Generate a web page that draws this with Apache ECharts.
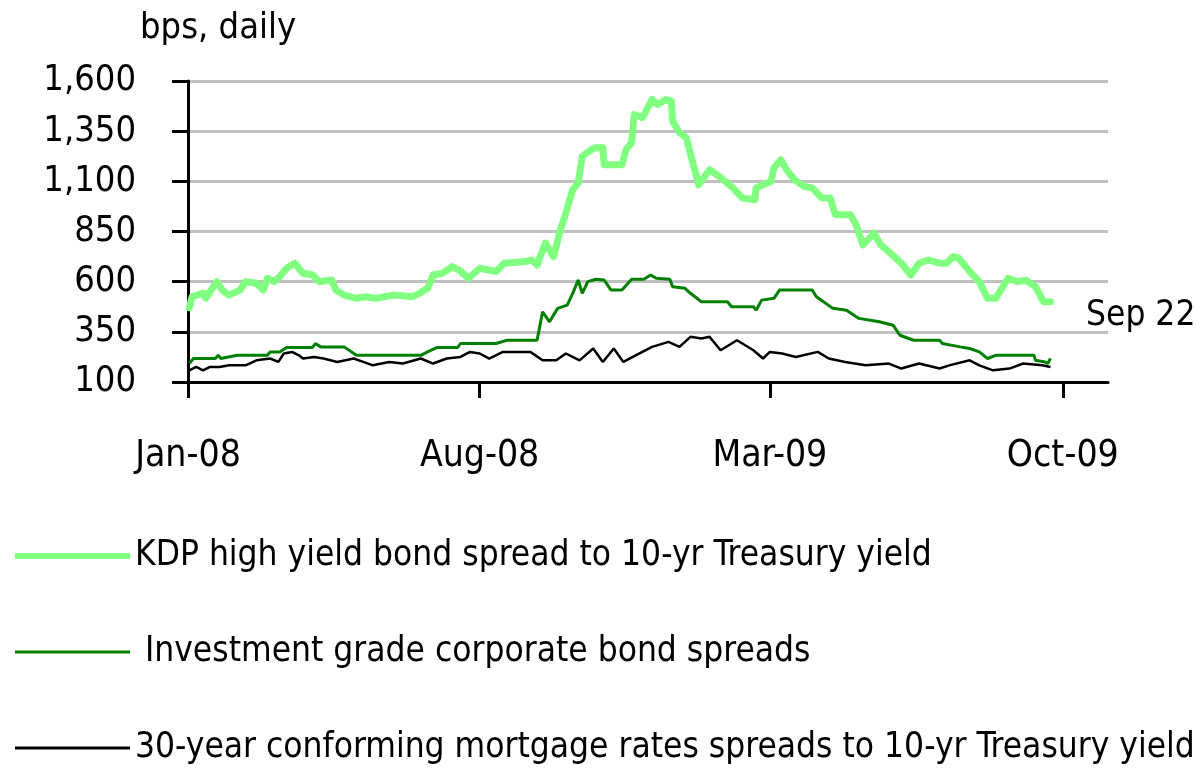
<!DOCTYPE html>
<html>
<head>
<meta charset="utf-8">
<title>Spreads</title>
<script src="https://cdn.jsdelivr.net/npm/echarts@6/dist/echarts.min.js"></script>
<style>
  html, body { margin: 0; padding: 0; background: #fff; }
  #chart { width: 1200px; height: 769px; }
</style>
</head>
<body>
<div id="chart"></div>
<script>
var FONT = '"Liberation Sans Narrow", "DejaVu Sans Condensed", "Arial Narrow", sans-serif';

var yTicks = [100, 350, 600, 850, 1100, 1350, 1600];
var xTicks = ['2008-01-01', '2008-08-01', '2009-03-01', '2009-10-01'];
var monthNames = ['Jan', 'Feb', 'Mar', 'Apr', 'May', 'Jun', 'Jul', 'Aug', 'Sep', 'Oct', 'Nov', 'Dec'];

var seriesNames = [
  'KDP high yield bond spread to 10-yr Treasury yield',
  ' Investment grade corporate bond spreads',
  '30-year conforming mortgage rates spreads to 10-yr Treasury yield'
];

// KDP high yield spread
var hyDates = [
  '2008-01-02', '2008-01-04', '2008-01-12', '2008-01-14', '2008-01-22', '2008-01-26', '2008-01-31',
  '2008-02-08', '2008-02-12', '2008-02-20', '2008-02-25', '2008-02-28', '2008-03-04', '2008-03-08',
  '2008-03-13', '2008-03-19', '2008-03-25', '2008-04-01', '2008-04-06', '2008-04-15', '2008-04-18',
  '2008-04-24', '2008-05-03', '2008-05-10', '2008-05-17', '2008-05-30', '2008-06-13', '2008-06-18',
  '2008-06-24', '2008-06-28', '2008-07-05', '2008-07-12', '2008-07-17', '2008-07-24', '2008-08-01',
  '2008-08-08', '2008-08-13', '2008-08-19', '2008-09-04', '2008-09-08', '2008-09-12', '2008-09-18',
  '2008-09-24', '2008-09-29', '2008-10-03', '2008-10-08', '2008-10-12', '2008-10-15', '2008-10-20',
  '2008-10-24', '2008-10-30', '2008-10-31', '2008-11-06', '2008-11-13', '2008-11-16', '2008-11-20',
  '2008-11-22', '2008-11-28', '2008-12-05', '2008-12-09', '2008-12-15', '2008-12-19', '2008-12-20',
  '2008-12-25', '2008-12-30', '2009-01-08', '2009-01-16', '2009-01-23', '2009-02-02', '2009-02-09',
  '2009-02-18', '2009-02-19', '2009-03-02', '2009-03-04', '2009-03-09', '2009-03-13', '2009-03-19',
  '2009-03-26', '2009-04-01', '2009-04-08', '2009-04-14', '2009-04-18', '2009-04-29', '2009-05-03',
  '2009-05-08', '2009-05-16', '2009-05-21', '2009-05-28', '2009-06-05', '2009-06-12', '2009-06-18',
  '2009-06-25', '2009-07-03', '2009-07-08', '2009-07-13', '2009-07-17', '2009-07-25', '2009-08-01',
  '2009-08-07', '2009-08-13', '2009-08-22', '2009-08-29', '2009-09-04', '2009-09-11', '2009-09-17',
  '2009-09-22'
];
var hyValues = [
  470, 525, 543, 518, 600, 558, 533,
  558, 600, 592, 558, 617, 600, 625,
  667, 692, 642, 633, 600, 608, 558,
  533, 517, 525, 517, 533, 525, 542,
  567, 633, 642, 675, 658, 617, 667,
  658, 650, 692, 700, 708, 683, 792,
  725, 858, 942, 1058, 1092, 1225, 1250,
  1267, 1267, 1183, 1183, 1183, 1258, 1292,
  1433, 1417, 1508, 1483, 1508, 1500, 1400,
  1342, 1317, 1083, 1158, 1125, 1067, 1017,
  1008, 1067, 1100, 1167, 1208, 1160, 1108,
  1075, 1067, 1017, 1017, 933, 933, 883,
  783, 842, 783, 742, 692, 633, 692,
  708, 692, 692, 725, 717, 650, 600,
  517, 517, 617, 600, 608, 575, 500,
  500
];

// investment grade corporate spreads
var igDates = [
  '2008-01-02', '2008-01-05', '2008-01-21', '2008-01-23', '2008-01-25', '2008-02-06', '2008-02-08',
  '2008-02-28', '2008-03-01', '2008-03-08', '2008-03-13', '2008-04-01', '2008-04-03', '2008-04-07',
  '2008-04-24', '2008-05-03', '2008-05-26', '2008-05-28', '2008-06-19', '2008-06-24', '2008-07-01',
  '2008-07-16', '2008-07-18', '2008-08-13', '2008-08-21', '2008-09-12', '2008-09-16', '2008-09-21',
  '2008-09-27', '2008-10-04', '2008-10-08', '2008-10-12', '2008-10-15', '2008-10-19', '2008-10-25',
  '2008-10-31', '2008-11-05', '2008-11-13', '2008-11-20', '2008-11-29', '2008-12-04', '2008-12-08',
  '2008-12-18', '2008-12-20', '2008-12-29', '2009-01-02', '2009-01-10', '2009-01-29', '2009-02-01',
  '2009-02-17', '2009-02-19', '2009-02-23', '2009-03-04', '2009-03-08', '2009-04-01', '2009-04-04',
  '2009-04-16', '2009-04-26', '2009-05-05', '2009-05-20', '2009-05-30', '2009-06-04', '2009-06-14',
  '2009-07-03', '2009-07-05', '2009-07-18', '2009-07-25', '2009-08-01', '2009-08-07', '2009-08-13',
  '2009-09-10', '2009-09-11', '2009-09-18', '2009-09-20', '2009-09-22'
];
var igValues = [
  192, 217, 217, 233, 217, 233, 233,
  233, 250, 250, 272, 272, 292, 275,
  275, 233, 233, 233, 233, 250, 272,
  272, 292, 292, 308, 308, 450, 400,
  467, 483, 542, 608, 542, 600, 612,
  608, 558, 558, 612, 612, 633, 617,
  612, 575, 567, 542, 500, 500, 475,
  475, 458, 508, 517, 558, 558, 525,
  467, 458, 417, 400, 383, 333, 308,
  308, 292, 275, 267, 250, 217, 233,
  233, 208, 200, 192, 217
];

// 30-year conforming mortgage spreads
var mtgDates = [
  '2008-01-02', '2008-01-07', '2008-01-12', '2008-01-17', '2008-01-24', '2008-01-31', '2008-02-12',
  '2008-02-20', '2008-03-01', '2008-03-07', '2008-03-11', '2008-03-17', '2008-03-22', '2008-03-25',
  '2008-04-02', '2008-04-09', '2008-04-19', '2008-05-01', '2008-05-08', '2008-05-15', '2008-05-27',
  '2008-06-06', '2008-06-19', '2008-06-28', '2008-07-08', '2008-07-18', '2008-07-25', '2008-08-01',
  '2008-08-08', '2008-08-18', '2008-09-07', '2008-09-16', '2008-09-26', '2008-10-03', '2008-10-13',
  '2008-10-23', '2008-10-30', '2008-11-07', '2008-11-14', '2008-11-23', '2008-12-05', '2008-12-17',
  '2008-12-25', '2009-01-02', '2009-01-10', '2009-01-16', '2009-01-24', '2009-02-05', '2009-02-17',
  '2009-02-24', '2009-03-01', '2009-03-10', '2009-03-20', '2009-04-05', '2009-04-13', '2009-04-25',
  '2009-05-10', '2009-05-27', '2009-06-05', '2009-06-18', '2009-07-03', '2009-07-10', '2009-07-25',
  '2009-08-01', '2009-08-11', '2009-08-23', '2009-09-02', '2009-09-16', '2009-09-22'
];
var mtgValues = [
  158, 175, 158, 175, 175, 183, 183,
  208, 217, 200, 242, 250, 233, 217,
  225, 217, 200, 217, 200, 183, 200,
  192, 217, 192, 217, 225, 250, 242,
  217, 250, 250, 208, 208, 242, 208,
  267, 200, 267, 200, 233, 275, 300,
  275, 325, 317, 325, 258, 308, 258,
  217, 250, 242, 225, 250, 217, 200,
  183, 192, 167, 192, 167, 183, 208,
  183, 158, 167, 192, 183, 175
];

// dates -> UTC timestamps, axis is a plain value axis in ms
function ts(s) {
  var p = s.split('-');
  return Date.UTC(+p[0], +p[1] - 1, +p[2]);
}
function zip(dates, values) {
  return dates.map(function (d, i) { return [ts(d), values[i]]; });
}
var xTickValues = xTicks.map(ts);

var chart = echarts.init(document.getElementById('chart'));

var option = {
  animation: false,
  backgroundColor: '#fff',
  textStyle: { fontFamily: FONT },
  grid: { left: 188, right: 92, top: 81, bottom: 387, containLabel: false },
  legend: {
    orient: 'vertical',
    left: 15,
    top: 538,
    padding: 0,
    itemWidth: 115,
    itemHeight: 36,
    itemGap: 60,
    symbolKeepAspect: true,
    selectedMode: false,
    textStyle: { fontFamily: FONT, fontSize: 35, color: '#000', lineHeight: 36 },
    data: [
      { name: seriesNames[0], icon: 'path://M0,0H115V6H0Z' },
      { name: seriesNames[1], icon: 'path://M0,0H115V3H0Z' },
      { name: seriesNames[2], icon: 'path://M0,0H115V3H0Z' }
    ]
  },
  xAxis: {
    type: 'value',
    min: ts('2008-01-01'),
    max: ts('2009-11-03'),
    axisLine: { lineStyle: { color: '#000', width: 3 } },
    axisTick: {
      show: true, length: 16, inside: false,
      lineStyle: { color: '#000', width: 3 },
      customValues: xTickValues
    },
    axisLabel: {
      customValues: xTickValues,
      margin: 56,
      fontFamily: FONT,
      fontSize: 37,
      color: '#000',
      formatter: function (v) {
        var d = new Date(v);
        return monthNames[d.getUTCMonth()] + '-' + String(d.getUTCFullYear()).slice(2);
      }
    },
    splitLine: { show: false }
  },
  yAxis: {
    type: 'value',
    min: yTicks[0],
    max: yTicks[yTicks.length - 1],
    interval: 250,
    name: 'bps, daily',
    nameLocation: 'end',
    nameGap: 34,
    nameTextStyle: { fontFamily: FONT, fontSize: 36, color: '#000', align: 'left', padding: [0, 0, 0, -48] },
    axisLine: { show: true, lineStyle: { color: '#000', width: 3 } },
    axisTick: { show: true, length: 16, lineStyle: { color: '#000', width: 3 } },
    axisLabel: {
      margin: 52,
      fontFamily: FONT,
      fontSize: 36,
      color: '#000',
      padding: [0, 0, 10, 0],
      formatter: function (v) { return v.toLocaleString('en-US'); }
    },
    splitLine: { show: true, lineStyle: { color: '#c0c0c0', width: 3 } }
  },
  graphic: [{
    type: 'text',
    left: 1086,
    top: 298,
    style: { text: 'Sep 22', fontFamily: FONT, fontSize: 35, fill: '#000' }
  }],
  series: [
    {
      name: seriesNames[0],
      type: 'line',
      symbol: 'none',
      data: zip(hyDates, hyValues),
      lineStyle: { color: '#80ff80', width: 7, cap: 'round', join: 'round' },
      itemStyle: { color: '#80ff80' },
      z: 3
    },
    {
      name: seriesNames[1],
      type: 'line',
      symbol: 'none',
      data: zip(igDates, igValues),
      lineStyle: { color: '#008000', width: 3 },
      itemStyle: { color: '#008000' },
      z: 4
    },
    {
      name: seriesNames[2],
      type: 'line',
      symbol: 'none',
      data: zip(mtgDates, mtgValues),
      lineStyle: { color: '#000', width: 2.5 },
      itemStyle: { color: '#000' },
      z: 5
    }
  ]
};

chart.setOption(option);
</script>
</body>
</html>
